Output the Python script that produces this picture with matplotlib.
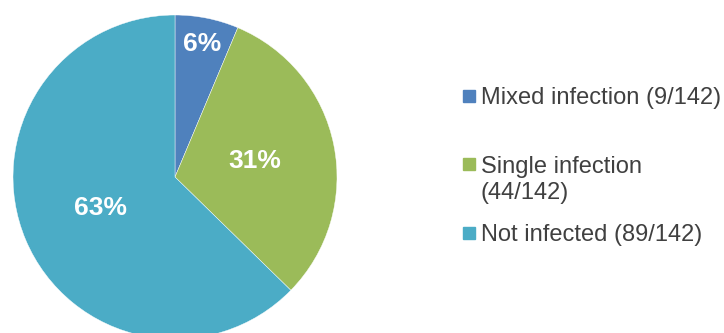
import matplotlib.pyplot as plt
from matplotlib.patches import Rectangle
import numpy as np

plt.rcParams["font.family"] = ["Liberation Sans", "DejaVu Sans"]

labels = ["Mixed infection (9/142)", "Single infection\n(44/142)", "Not infected (89/142)"]
counts = [9, 44, 89]
colors = ["#4F81BD", "#9BBB59", "#4BACC6"]
pct_dist = [0.84, 0.5, 0.5]

W, H = 724, 333
fig = plt.figure(figsize=(W / 100, H / 100), dpi=100)
ax = fig.add_axes([0, 0, 1, 1])

cx, cy, r = 175, H - 177, 162
wedges, _, autotexts = ax.pie(counts, colors=colors, startangle=90, counterclock=False,
                              center=(cx, cy), radius=r, autopct="%.0f%%",
                              pctdistance=0.5,
                              wedgeprops=dict(edgecolor="white", linewidth=0.3),
                              textprops=dict(color="white", fontsize=19, fontweight="bold"))

# push labels to their own radial distance
for w, t, d in zip(wedges, autotexts, pct_dist):
    ang = np.deg2rad((w.theta1 + w.theta2) / 2)
    t.set_position((cx + d * r * np.cos(ang), cy + d * r * np.sin(ang)))
    t.set_ha("center"); t.set_va("center")

ax.set_xlim(0, W)
ax.set_ylim(0, H)
ax.set_aspect("equal")
ax.axis("off")

# legend, square aligned with the first text line
rows_y = [95.5, 164, 232.5]
for lab, col, y in zip(labels, colors, rows_y):
    ax.add_patch(Rectangle((463, H - y - 6), 12, 12, color=col, clip_on=False))
    for i, line in enumerate(lab.split("\n")):
        ax.text(481, H - y - 8.5 - 26 * i, line, fontsize=17, color="#404040",
                va="baseline", ha="left")

fig.savefig("out.png", dpi=100)
